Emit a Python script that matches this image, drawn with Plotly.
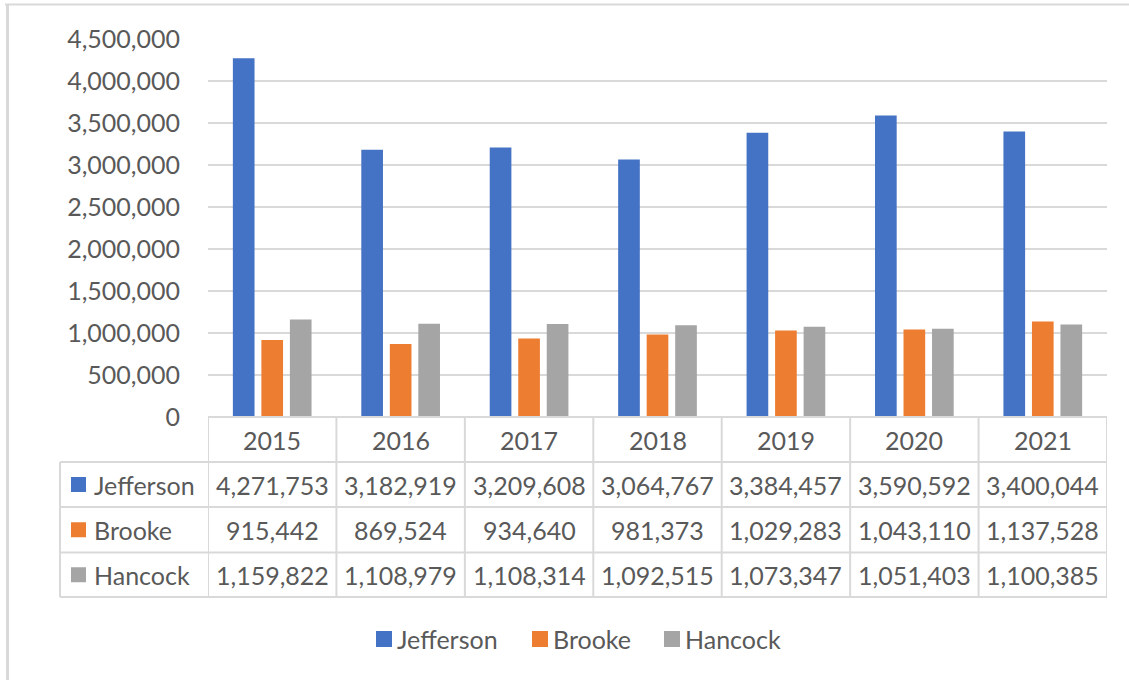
import plotly.graph_objects as go

# Annual values per county
years = ["2015", "2016", "2017", "2018", "2019", "2020", "2021"]
jefferson = [4271753, 3182919, 3209608, 3064767, 3384457, 3590592, 3400044]
brooke = [915442, 869524, 934640, 981373, 1029283, 1043110, 1137528]
hancock = [1159822, 1108979, 1108314, 1092515, 1073347, 1051403, 1100385]

series_names = ["Jefferson", "Brooke", "Hancock"]
series_values = [jefferson, brooke, hancock]
series_colors = ["#4472C4", "#ED7D31", "#A5A5A5"]

y_max = 4500000
y_step = 500000

# Page and plot-area geometry (pixels)
W, H = 1129, 680
L, R, T, B = 208, 22, 39, 263
PW = W - L - R
PH = H - T - B

TEXT = "#595959"
GRID = "#D9D9D9"
FONT = "Lato"
FS = 25


def fx(px):
    """Horizontal pixel position -> paper fraction."""
    return (px - L) / PW


def fy(py):
    """Vertical pixel position -> paper fraction."""
    return (H - B - py) / PH


fig = go.Figure()
for name, vals, col in zip(series_names, series_values, series_colors):
    fig.add_trace(go.Bar(x=years, y=vals, name=name, marker_color=col,
                         marker_line_width=0, showlegend=False))

shapes = []
annotations = []

# Data table grid beneath the category axis
row_edges = [417, 462, 507, 552.5, 597]
line = dict(color=GRID, width=2)
for i, yy in enumerate(row_edges):
    x0 = fx(208) if i == 0 else fx(60)
    shapes.append(dict(type="line", xref="paper", yref="paper",
                       x0=x0, x1=1, y0=fy(yy), y1=fy(yy), line=line))
shapes.append(dict(type="line", xref="paper", yref="paper",
                   x0=fx(60), x1=fx(60), y0=fy(462), y1=fy(597), line=line))
for k in range(len(years) + 1):
    shapes.append(dict(type="line", xref="x", yref="paper",
                       x0=k - 0.5, x1=k - 0.5, y0=fy(417), y1=fy(597), line=line))

# Header row: years (category index positions)
for i, yr in enumerate(years):
    annotations.append(dict(xref="x", yref="paper", x=i, y=fy(440), text=yr,
                            showarrow=False, xanchor="center", yanchor="middle",
                            font=dict(family=FONT, size=FS, color=TEXT)))

# Value rows with colour keys
for r, (name, vals, col) in enumerate(zip(series_names, series_values, series_colors)):
    yc = (row_edges[r + 1] + row_edges[r + 2]) / 2
    shapes.append(dict(type="rect", xref="paper", yref="paper",
                       x0=fx(71), x1=fx(86), y0=fy(yc - 7.5), y1=fy(yc + 7.5),
                       fillcolor=col, line=dict(width=0)))
    annotations.append(dict(xref="paper", yref="paper", x=fx(92), y=fy(yc),
                            text=name, showarrow=False, xanchor="left", yanchor="middle",
                            font=dict(family=FONT, size=FS, color=TEXT)))
    for i, v in enumerate(vals):
        annotations.append(dict(xref="x", yref="paper", x=i, y=fy(yc),
                                text=f"{v:,}", showarrow=False,
                                xanchor="center", yanchor="middle",
                                font=dict(family=FONT, size=FS, color=TEXT)))

# Legend along the bottom
legend_pos = [376, 532, 664]
for px, name, col in zip(legend_pos, series_names, series_colors):
    shapes.append(dict(type="rect", xref="paper", yref="paper",
                       x0=fx(px), x1=fx(px + 16), y0=fy(631), y1=fy(647),
                       fillcolor=col, line=dict(width=0)))
    annotations.append(dict(xref="paper", yref="paper", x=fx(px + 19), y=fy(639),
                            text=name, showarrow=False, xanchor="left", yanchor="middle",
                            font=dict(family=FONT, size=FS, color=TEXT)))

# Chart frame
shapes.append(dict(type="line", xref="paper", yref="paper",
                   x0=fx(5), x1=fx(W + 5), y0=fy(4.5), y1=fy(4.5),
                   line=dict(color=GRID, width=2)))
shapes.append(dict(type="line", xref="paper", yref="paper",
                   x0=fx(7.5), x1=fx(7.5), y0=fy(4), y1=fy(H + 5),
                   line=dict(color=GRID, width=3)))

fig.update_layout(
    width=W, height=H,
    margin=dict(l=L, r=R, t=T, b=B, pad=0),
    paper_bgcolor="white", plot_bgcolor="white",
    barmode="group", bargap=0.334, bargroupgap=0.24,
    font=dict(family=FONT, size=FS, color=TEXT),
    shapes=shapes, annotations=annotations,
    showlegend=False,
)
fig.update_xaxes(type="category", range=[-0.5, len(years) - 0.5],
                 showticklabels=False, showgrid=False, zeroline=False,
                 showline=False, ticks="")
fig.update_yaxes(range=[0, y_max], dtick=y_step, tickformat=",",
                 showgrid=True, gridcolor=GRID, gridwidth=2,
                 zeroline=False, showline=False, ticks="",
                 ticklabelstandoff=27,
                 tickfont=dict(family=FONT, size=FS, color=TEXT))

fig.write_html("out.html")
